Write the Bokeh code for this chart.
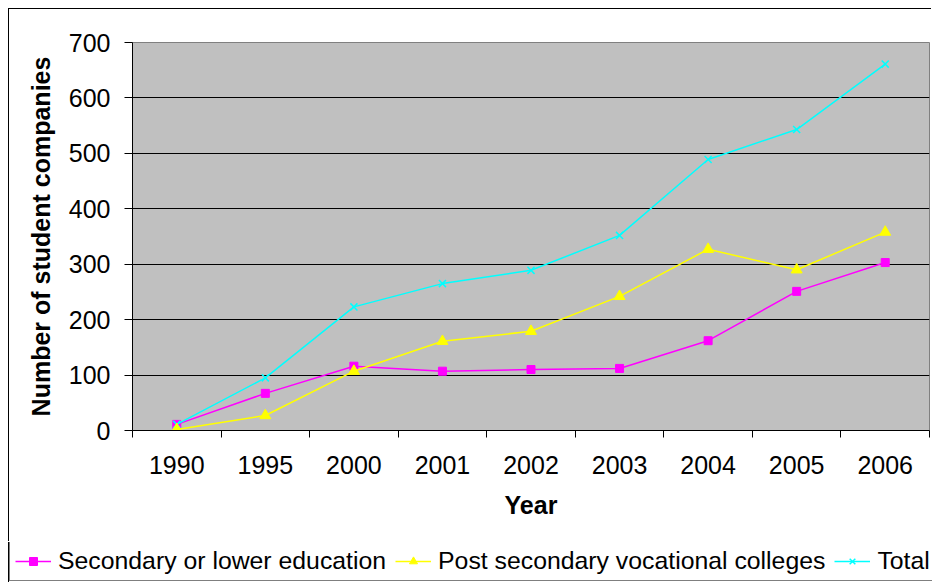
from bokeh.plotting import figure
from bokeh.models import Range1d, FixedTicker, Legend, LegendItem
from bokeh.embed import file_html
from bokeh.resources import INLINE

years = ["1990", "1995", "2000", "2001", "2002", "2003", "2004", "2005", "2006"]
secondary = [11, 67, 116, 107, 110, 112, 162, 251, 303]
post_secondary = [2, 27, 107, 161, 179, 242, 327, 290, 358]
total = [11, 95, 223, 265, 289, 352, 489, 543, 661]
y_ticks = [0, 100, 200, 300, 400, 500, 600, 700]

names = ["Secondary or lower education", "Post secondary vocational colleges", "Total"]
colors = ["#FF00FF", "#FFFF00", "#00FFFF"]

n = len(years)
xs = [i + 0.5 for i in range(n)]
FONT = "Liberation Sans"

p = figure(width=923, height=533, output_backend="svg", toolbar_location=None,
           x_range=Range1d(0, n), y_range=Range1d(y_ticks[0], y_ticks[-1]),
           min_border_left=123, min_border_right=3, min_border_top=33, min_border_bottom=112,
           background_fill_color="#C0C0C0", border_fill_color="white",
           outline_line_color="#808080", outline_line_width=1,
           styles={"position": "absolute", "left": "8px", "top": "8px",
                   "border-left": "1px solid black", "border-top": "1px solid black"})

# grid
p.xgrid.visible = False
p.ygrid.ticker = FixedTicker(ticks=y_ticks[1:-1])
p.ygrid.grid_line_color = "black"
p.ygrid.grid_line_width = 1

# x axis
xa = p.xaxis[0]
xa.ticker = FixedTicker(ticks=xs, minor_ticks=list(range(n + 1)))
xa.major_label_overrides = {x: y for x, y in zip(xs, years)}
xa.major_tick_line_color = None
xa.minor_tick_line_color = "black"
xa.minor_tick_out = 7
xa.minor_tick_in = 0
xa.axis_line_color = "black"
xa.major_label_text_font = FONT
xa.major_label_text_font_size = "25px"
xa.major_label_text_color = "black"
xa.major_label_standoff = 18
xa.axis_label = "Year"
xa.axis_label_text_font = FONT
xa.axis_label_text_font_size = "25px"
xa.axis_label_text_font_style = "bold"
xa.axis_label_text_color = "black"
xa.axis_label_standoff = 14

# y axis
ya = p.yaxis[0]
ya.ticker = FixedTicker(ticks=y_ticks)
ya.major_tick_out = 8
ya.major_tick_in = 0
ya.minor_tick_line_color = None
ya.axis_line_color = "black"
ya.major_tick_line_color = "black"
ya.major_label_text_font = FONT
ya.major_label_text_font_size = "25px"
ya.major_label_text_color = "black"
ya.major_label_standoff = 14
ya.axis_label = "Number of student companies"
ya.axis_label_text_font = FONT
ya.axis_label_text_font_size = "25px"
ya.axis_label_text_font_style = "bold"
ya.axis_label_text_color = "black"
ya.axis_label_standoff = 11

series = [secondary, post_secondary, total]
markers = ["square", "triangle", "x"]
msizes = [8, 11, 10]


def draw(fig, i):
    ln = fig.line(xs, series[i], line_color=colors[i], line_width=1.5)
    if markers[i] == "x":
        mk = fig.scatter(xs, series[i], marker="x", size=msizes[i], line_color=colors[i], line_width=1.5)
    else:
        mk = fig.scatter(xs, series[i], marker=markers[i], size=msizes[i],
                         fill_color=colors[i], line_color=colors[i])
    return ln, mk


for i in (0, 2, 1):
    draw(p, i)

# legend strip: its own canvas so the key can span the full chart width.
# The x-range lies beside the data, so only the key is shown here.
lg = figure(width=923, height=40, output_backend="svg", toolbar_location=None,
            x_axis_type=None, y_axis_type=None,
            x_range=Range1d(-3, -2), y_range=Range1d(y_ticks[0], y_ticks[-1]),
            min_border=0, min_border_left=0, min_border_right=0, min_border_top=0, min_border_bottom=0,
            outline_line_color=None, background_fill_color="white", border_fill_color="white",
            styles={"position": "absolute", "left": "8px", "top": "542px",
                    "border-left": "1px solid black"})
key_items = []
for i in range(3):
    ln, mk = draw(lg, i)
    key_items.append(LegendItem(label=names[i], renderers=[ln, mk]))

legend = Legend(items=key_items, orientation="horizontal", location=(0, 1),
                border_line_color="black", border_line_width=1,
                background_fill_color="white", background_fill_alpha=1,
                label_text_font=FONT, label_text_font_size="24.8px", label_text_color="black",
                glyph_width=36, glyph_height=20, label_standoff=7, spacing=9, padding=5, margin=0)
lg.add_layout(legend)

open("out.html", "w").write(file_html([p, lg], INLINE))
